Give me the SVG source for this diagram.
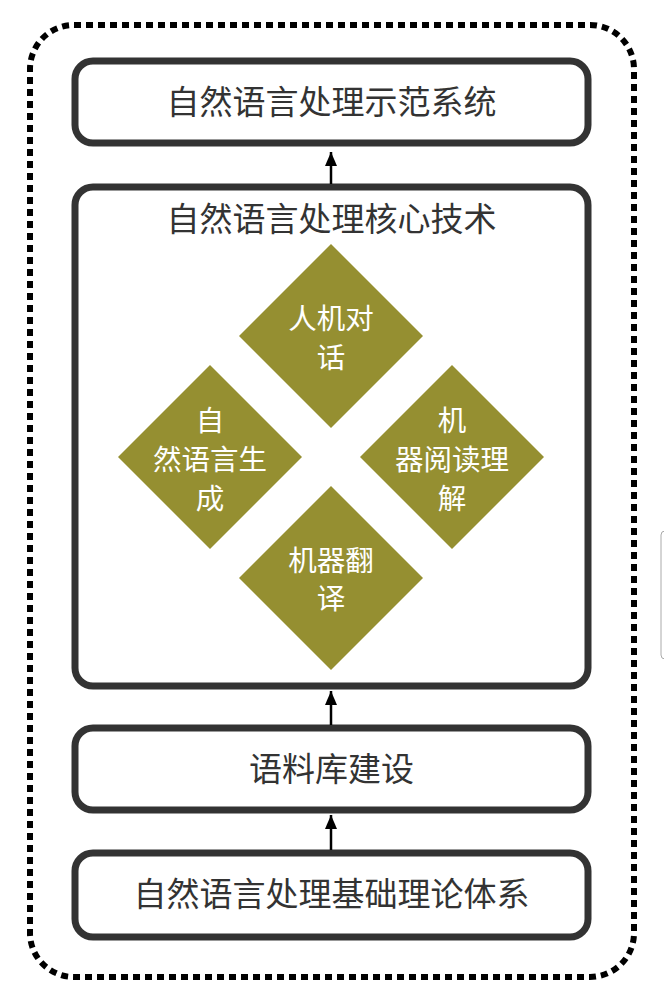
<svg xmlns="http://www.w3.org/2000/svg" width="664" height="1002" viewBox="0 0 664 1002">
<style>
.box{fill:#fff;stroke:#333;stroke-width:7}
.lbl{font-family:"Noto Sans CJK SC","Noto Sans",sans-serif;font-size:33px;fill:#333;text-anchor:middle;dominant-baseline:central}
.dia{fill:#958f31}
.dl{font-family:"Noto Sans CJK SC","Noto Sans",sans-serif;font-size:28.5px;fill:#fff;text-anchor:middle;dominant-baseline:central}
.conn{stroke:#000;stroke-width:2.5;fill:none}
</style>
<defs>
<marker id="ah" markerWidth="14" markerHeight="12" refX="14" refY="6" orient="auto" markerUnits="userSpaceOnUse" viewBox="0 0 14 12">
<path d="M0,0 L14,6 L0,12 Z" fill="#000"/>
</marker>
</defs>
<rect width="664" height="1002" fill="#fff"/>
<g id="container">
<rect x="30" y="25" width="604" height="952" rx="44" fill="none" stroke="#000" stroke-width="6" stroke-dasharray="7 5"/>
</g>
<g id="demo">
<rect class="box" x="75" y="61" width="513" height="82" rx="18"/>
<text class="lbl" x="331.5" y="100">自然语言处理示范系统</text>
</g>
<g id="core">
<rect class="box" x="75" y="187" width="513" height="499" rx="18"/>
<text class="lbl" x="331.5" y="217">自然语言处理核心技术</text>
</g>
<g id="dialog">
<polygon class="dia" points="331,244 423,336 331,428 239,336"/>
<text class="dl" x="331" y="316">人机对</text>
<text class="dl" x="331" y="355">话</text>
</g>
<g id="nlg">
<polygon class="dia" points="210,365 302,457 210,549 118,457"/>
<text class="dl" x="210" y="418">自</text>
<text class="dl" x="210" y="457">然语言生</text>
<text class="dl" x="210" y="496">成</text>
</g>
<g id="mrc">
<polygon class="dia" points="452,365 544,457 452,549 360,457"/>
<text class="dl" x="452" y="418">机</text>
<text class="dl" x="452" y="457">器阅读理</text>
<text class="dl" x="452" y="496">解</text>
</g>
<g id="mt">
<polygon class="dia" points="331,486 423,578 331,670 239,578"/>
<text class="dl" x="331" y="558">机器翻</text>
<text class="dl" x="331" y="596">译</text>
</g>
<g id="corpus">
<rect class="box" x="75" y="728" width="513" height="82" rx="18"/>
<text class="lbl" x="331.5" y="767">语料库建设</text>
</g>
<g id="theory">
<rect class="box" x="75" y="853" width="513" height="84" rx="18"/>
<text class="lbl" x="331.5" y="892">自然语言处理基础理论体系</text>
</g>
<g id="connectors">
<line class="conn" x1="331" y1="184" x2="331" y2="152" marker-end="url(#ah)"/>
<line class="conn" x1="331" y1="725" x2="331" y2="691" marker-end="url(#ah)"/>
<line class="conn" x1="331" y1="850" x2="331" y2="815" marker-end="url(#ah)"/>
</g>
<g id="edge-tab">
<rect x="661" y="531" width="12" height="128" rx="4" fill="#fff" stroke="#aaa" stroke-width="1"/>
</g>
</svg>
